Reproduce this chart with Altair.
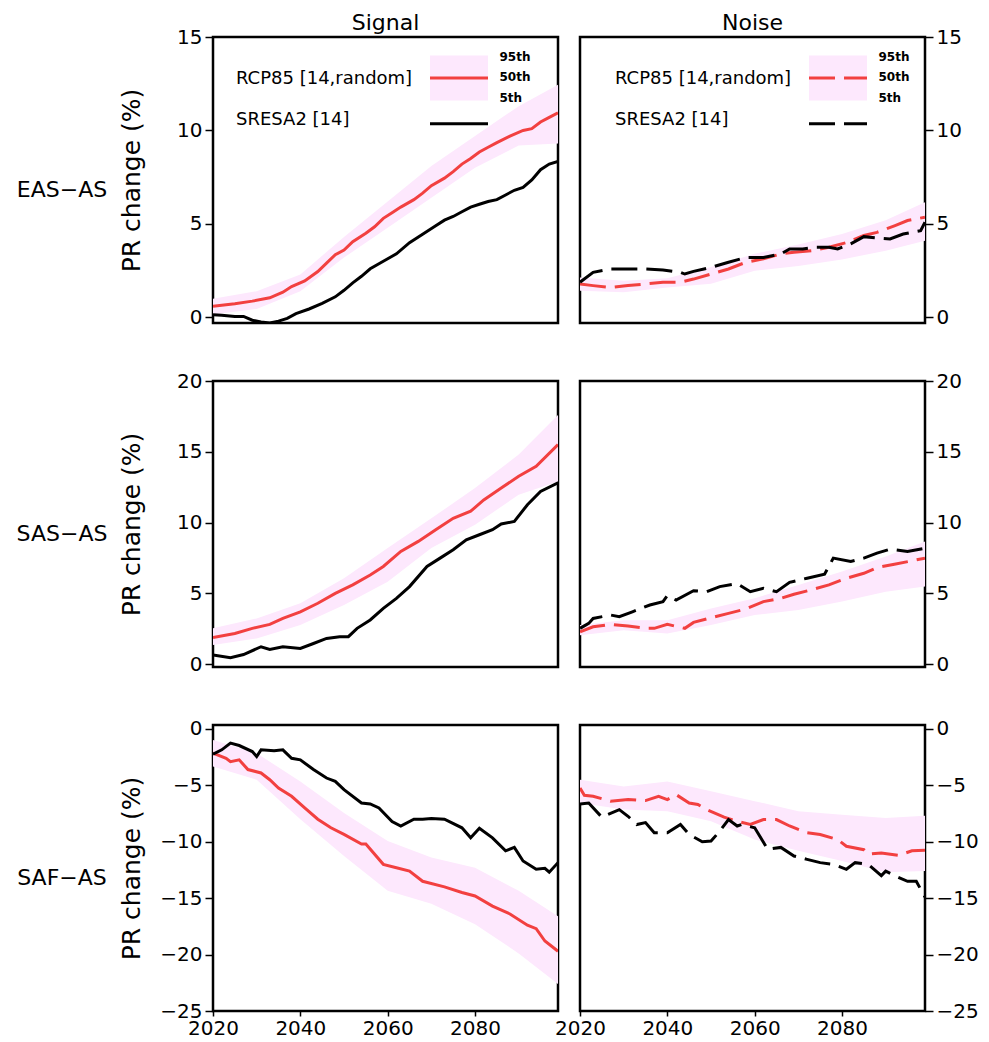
import altair as alt
import pandas as pd

FONT = "DejaVu Sans"
RED = "#f24040"
PINK = "#fde8fd"
BLACK = "#000000"

x_domain = [2020, 2099]
x_ticks = [2020, 2040, 2060, 2080]

# Percentile band (5th-95th) sampled every decade
band_years = [2020, 2030, 2040, 2050, 2060, 2070, 2080, 2090, 2099]

# ---------------- EAS-AS ----------------
eas_sig_rcp_years = [2020, 2023, 2025, 2029, 2033, 2036, 2038, 2041, 2044, 2046, 2048, 2050,
                     2052, 2055, 2057, 2059, 2061, 2063, 2066, 2068, 2070, 2073, 2075, 2077,
                     2079, 2081, 2083, 2085, 2088, 2091, 2093, 2095, 2097, 2099]
eas_sig_rcp = [0.6, 0.68, 0.73, 0.87, 1.05, 1.35, 1.65, 1.95, 2.45, 2.9, 3.35, 3.6,
               4.05, 4.5, 4.85, 5.3, 5.6, 5.9, 6.3, 6.65, 7.05, 7.45, 7.8, 8.2,
               8.5, 8.85, 9.1, 9.35, 9.7, 10.0, 10.1, 10.45, 10.7, 10.95]
eas_sig_sres_years = [2020, 2022, 2025, 2027, 2029, 2031, 2033, 2035, 2037, 2039, 2042, 2045,
                      2048, 2050, 2052, 2054, 2056, 2059, 2062, 2065, 2068, 2071, 2073, 2075,
                      2077, 2079, 2081, 2083, 2085, 2087, 2089, 2091, 2093, 2095, 2097, 2099]
eas_sig_sres = [0.14, 0.12, 0.05, 0.05, -0.15, -0.25, -0.3, -0.2, -0.05, 0.2, 0.45, 0.75,
                1.1, 1.45, 1.85, 2.2, 2.6, 3.0, 3.4, 4.0, 4.45, 4.9, 5.2, 5.4,
                5.65, 5.9, 6.05, 6.2, 6.3, 6.55, 6.8, 6.95, 7.35, 7.9, 8.2, 8.35]
eas_sig_p95 = [1.0, 1.4, 2.3, 4.3, 6.2, 8.1, 9.7, 11.3, 12.45]
eas_sig_p5 = [0.15, 0.45, 1.4, 3.2, 4.8, 6.4, 8.0, 9.2, 9.3]

eas_noi_rcp_years = [2020, 2023, 2027, 2031, 2035, 2039, 2043, 2046, 2050, 2054, 2058, 2062,
                     2066, 2069, 2073, 2077, 2081, 2085, 2088, 2092, 2095, 2099]
eas_noi_rcp = [1.79, 1.7, 1.6, 1.7, 1.79, 1.88, 1.88, 2.05, 2.32, 2.59, 2.95, 3.13,
               3.4, 3.48, 3.57, 3.75, 4.0, 4.38, 4.55, 4.9, 5.18, 5.36]
eas_noi_sres_years = [2020, 2023, 2027, 2031, 2035, 2039, 2043, 2044, 2046, 2050, 2054, 2058,
                      2062, 2066, 2068, 2071, 2074, 2077, 2079, 2082, 2085, 2088, 2091, 2094,
                      2098, 2099]
eas_noi_sres = [1.88, 2.41, 2.59, 2.59, 2.59, 2.54, 2.41, 2.32, 2.46, 2.68, 2.95, 3.21,
                3.21, 3.39, 3.66, 3.66, 3.75, 3.75, 3.66, 3.93, 4.32, 4.25, 4.2, 4.46,
                4.64, 5.09]
eas_noi_p95 = [2.14, 1.96, 2.1, 2.7, 3.4, 3.9, 4.46, 5.2, 6.16]
eas_noi_p5 = [1.43, 1.34, 1.6, 1.8, 2.5, 2.75, 3.1, 3.57, 4.1]

# ---------------- SAS-AS ----------------
sas_sig_rcp_years = [2020, 2025, 2029, 2033, 2036, 2040, 2044, 2048, 2052, 2056, 2059, 2063,
                     2067, 2071, 2075, 2079, 2082, 2086, 2090, 2094, 2099]
sas_sig_rcp = [1.89, 2.17, 2.53, 2.81, 3.23, 3.7, 4.3, 5.0, 5.6, 6.3, 6.9, 7.96,
               8.67, 9.5, 10.3, 10.8, 11.6, 12.44, 13.27, 13.98, 15.51]
sas_sig_sres_years = [2020, 2024, 2027, 2031, 2033, 2036, 2040, 2043, 2046, 2049, 2051, 2053,
                      2056, 2059, 2062, 2065, 2069, 2072, 2075, 2078, 2081, 2084, 2086, 2089,
                      2092, 2095, 2099]
sas_sig_sres = [0.64, 0.45, 0.68, 1.23, 1.04, 1.23, 1.11, 1.46, 1.82, 1.94, 1.94, 2.53,
                3.12, 3.94, 4.65, 5.48, 6.9, 7.49, 8.08, 8.78, 9.14, 9.5, 9.9, 10.08,
                11.26, 12.2, 12.8]
sas_sig_p95 = [2.53, 3.23, 4.3, 6.07, 8.2, 10.3, 12.44, 14.8, 17.6]
sas_sig_p5 = [1.35, 1.82, 2.76, 4.18, 5.83, 8.2, 9.85, 11.97, 12.9]

sas_noi_rcp_years = [2020, 2023, 2027, 2031, 2035, 2037, 2040, 2044, 2046, 2050, 2054, 2058,
                     2062, 2066, 2069, 2073, 2077, 2081, 2085, 2088, 2092, 2096, 2099]
sas_noi_rcp = [2.29, 2.64, 2.81, 2.69, 2.53, 2.53, 2.81, 2.53, 2.95, 3.28, 3.59, 3.9,
               4.42, 4.65, 4.94, 5.25, 5.6, 6.07, 6.42, 6.82, 7.06, 7.3, 7.49]
sas_noi_sres_years = [2020, 2022, 2023, 2027, 2029, 2032, 2036, 2039, 2040, 2042, 2046, 2049,
                      2052, 2056, 2059, 2062, 2065, 2068, 2072, 2076, 2078, 2082, 2085, 2088,
                      2091, 2095, 2099]
sas_noi_sres = [2.53, 2.88, 3.23, 3.47, 3.35, 3.7, 4.18, 4.42, 4.84, 4.53, 5.19, 5.12,
                5.48, 5.69, 5.12, 5.36, 5.12, 5.78, 6.07, 6.35, 7.49, 7.25, 7.49, 7.84,
                8.12, 7.96, 8.19]
sas_noi_p95 = [2.76, 3.1, 3.1, 3.94, 4.65, 5.6, 6.54, 7.6, 8.67]
sas_noi_p5 = [2.05, 2.4, 2.17, 2.76, 3.47, 3.82, 4.42, 5.12, 5.48]

# ---------------- SAF-AS ----------------
saf_sig_rcp_years = [2020, 2023, 2024, 2026, 2028, 2031, 2033, 2035, 2038, 2041, 2044, 2047,
                     2050, 2054, 2055, 2059, 2062, 2065, 2068, 2073, 2077, 2080, 2084, 2088,
                     2092, 2094, 2096, 2099]
saf_sig_rcp = [-2.15, -2.6, -2.9, -2.74, -3.6, -3.9, -4.5, -5.24, -5.97, -7.0, -8.0, -8.76,
               -9.35, -10.2, -10.2, -12.0, -12.3, -12.6, -13.5, -14.0, -14.5, -14.8, -15.7, -16.4,
               -17.4, -17.7, -18.8, -19.7]
saf_sig_sres_years = [2020, 2022, 2024, 2026, 2029, 2030, 2031, 2034, 2036, 2038, 2040, 2043,
                      2046, 2048, 2050, 2054, 2056, 2058, 2061, 2063, 2066, 2068, 2070, 2073,
                      2077, 2079, 2081, 2084, 2087, 2089, 2091, 2094, 2096, 2097, 2099]
saf_sig_sres = [-2.24, -1.85, -1.26, -1.47, -2.0, -2.44, -1.85, -1.94, -1.85, -2.6, -2.74, -3.6,
                -4.35, -4.65, -5.38, -6.56, -6.65, -7.0, -8.2, -8.6, -8.0, -8.0, -7.94, -8.0,
                -8.76, -9.65, -8.8, -9.65, -10.8, -10.5, -11.7, -12.44, -12.35, -12.7, -11.85]
saf_sig_p95 = [-0.97, -2.15, -4.65, -7.44, -9.94, -11.4, -12.3, -14.35, -16.6]
saf_sig_p5 = [-3.32, -4.5, -8.0, -11.26, -14.35, -15.5, -17.3, -19.9, -22.6]

saf_noi_rcp_years = [2020, 2021, 2023, 2027, 2031, 2035, 2038, 2040, 2042, 2045, 2047, 2049,
                     2053, 2056, 2059, 2062, 2065, 2068, 2072, 2075, 2079, 2081, 2085, 2086,
                     2089, 2093, 2096, 2099]
saf_noi_rcp = [-5.24, -5.88, -5.97, -6.4, -6.26, -6.35, -5.97, -6.26, -5.82, -6.56, -6.7, -7.15,
               -7.82, -8.18, -8.47, -8.03, -8.03, -8.6, -9.2, -9.35, -9.8, -10.4, -10.7, -11.1,
               -11.0, -11.2, -10.8, -10.76]
saf_noi_sres_years = [2020, 2022, 2025, 2029, 2031, 2033, 2035, 2037, 2040, 2043, 2045, 2048,
                      2050, 2052, 2054, 2056, 2057, 2060, 2063, 2066, 2069, 2072, 2075, 2078,
                      2081, 2083, 2086, 2089, 2090, 2092, 2095, 2097, 2099]
saf_noi_sres = [-6.65, -6.56, -7.82, -7.15, -7.74, -8.47, -8.3, -9.2, -9.2, -8.47, -9.35, -10.0,
                -9.94, -9.06, -8.03, -8.6, -8.47, -8.76, -10.67, -10.5, -11.26, -11.56, -11.85, -12.0,
                -12.44, -11.85, -12.0, -13.0, -12.6, -13.0, -13.5, -13.5, -14.9]
saf_noi_p95 = [-4.5, -5.1, -4.65, -5.53, -6.4, -7.3, -7.6, -7.9, -7.7]
saf_noi_p5 = [-6.56, -7.15, -7.3, -8.18, -9.8, -10.8, -11.7, -12.7, -12.6]

regions = ["EAS\u2212AS", "SAS\u2212AS", "SAF\u2212AS"]
y_domains = [[-0.3, 15], [-0.2, 20], [-25, 0.35]]
y_ticks = [[0, 5, 10, 15], [0, 5, 10, 15, 20], [0, -5, -10, -15, -20, -25]]
column_titles = ["Signal", "Noise"]
rcp_label = "RCP85 [14,random]"
sres_label = "SRESA2 [14]"
pct_labels = ["95th", "50th", "5th"]

series = [
    [(eas_sig_rcp_years, eas_sig_rcp, eas_sig_sres_years, eas_sig_sres, eas_sig_p5, eas_sig_p95),
     (eas_noi_rcp_years, eas_noi_rcp, eas_noi_sres_years, eas_noi_sres, eas_noi_p5, eas_noi_p95)],
    [(sas_sig_rcp_years, sas_sig_rcp, sas_sig_sres_years, sas_sig_sres, sas_sig_p5, sas_sig_p95),
     (sas_noi_rcp_years, sas_noi_rcp, sas_noi_sres_years, sas_noi_sres, sas_noi_p5, sas_noi_p95)],
    [(saf_sig_rcp_years, saf_sig_rcp, saf_sig_sres_years, saf_sig_sres, saf_sig_p5, saf_sig_p95),
     (saf_noi_rcp_years, saf_noi_rcp, saf_noi_sres_years, saf_noi_sres, saf_noi_p5, saf_noi_p95)],
]

W, H = 345, 286
DASH = [26, 9]


def legend_layers(dash, dx):
    """In-panel key: percentile band, RCP85 median and SRESA2 lines."""
    one = pd.DataFrame({"rcp": [rcp_label], "sres": [sres_label]})
    base = alt.Chart(one)
    line_kw = {"strokeDash": dash} if dash else {}
    x0, x1 = 217 + dx, 275 + dx
    layers = [
        base.mark_rect(color=PINK).encode(
            x=alt.value(x0), x2=alt.value(x1), y=alt.value(18.5), y2=alt.value(63.5)),
        base.mark_rule(color=RED, strokeWidth=3, **line_kw).encode(
            x=alt.value(x0), x2=alt.value(x1), y=alt.value(41)),
        base.mark_rule(color=BLACK, strokeWidth=3, **line_kw).encode(
            x=alt.value(x0), x2=alt.value(x1), y=alt.value(86.7)),
        base.mark_text(align="left", baseline="middle", fontSize=18, font=FONT).encode(
            text="rcp:N", x=alt.value(23 + dx), y=alt.value(41.7)),
        base.mark_text(align="left", baseline="middle", fontSize=18, font=FONT).encode(
            text="sres:N", x=alt.value(23 + dx), y=alt.value(83.3)),
    ]
    for lab, yy in zip(pct_labels, [20, 40, 60.5]):
        layers.append(
            alt.Chart(pd.DataFrame({"p": [lab]})).mark_text(
                align="left", baseline="middle", fontSize=12, fontWeight="bold", font=FONT
            ).encode(text="p:N", x=alt.value(286.5 + dx), y=alt.value(yy))
        )
    return layers


def panel(row, col):
    ry, rv, sy, sv, p5, p95 = series[row][col]
    bottom = row == 2
    left = col == 0
    dash = DASH if col == 1 else None
    line_kw = {"strokeDash": dash} if dash else {}

    if bottom:
        x_axis = alt.Axis(values=x_ticks, format="d", labelFontSize=20, labelFont=FONT,
                          tickSize=5, labelPadding=2, labelFlush=False, labelOverlap=False,
                          domain=False, grid=False, tickColor=BLACK, tickWidth=1.5,
                          labelColor=BLACK)
    else:
        x_axis = alt.Axis(labels=False, ticks=False, domain=False, grid=False)
    x = alt.X("year:Q", title=None, axis=x_axis,
              scale=alt.Scale(domain=x_domain, nice=False, zero=False))

    y_axis_kw = dict(values=y_ticks[row], orient="left" if left else "right",
                     labelFontSize=20, labelFont=FONT, tickSize=8, labelPadding=3,
                     domain=False, grid=False, tickColor=BLACK, tickWidth=1.5,
                     labelColor=BLACK)
    if left:
        y_axis_kw.update(titleFontSize=25, titleFont=FONT, titleFontWeight="normal",
                         titleX=-82, titleY=H / 2, titleBaseline="middle",
                         titleColor=BLACK)
    y_axis = alt.Axis(**y_axis_kw)
    y_scale = alt.Scale(domain=y_domains[row], nice=False, zero=False)
    y_title = "PR change (%)" if left else None

    band_df = pd.DataFrame({"year": band_years, "lo": p5, "hi": p95})
    rcp_df = pd.DataFrame({"year": ry, "pr": rv})
    sres_df = pd.DataFrame({"year": sy, "pr": sv})

    band = alt.Chart(band_df).mark_area(color=PINK, clip=True).encode(
        x=x, y=alt.Y("lo:Q", scale=y_scale, axis=y_axis, title=y_title), y2="hi:Q")
    rcp = alt.Chart(rcp_df).mark_line(color=RED, strokeWidth=3, clip=True, **line_kw).encode(
        x=x, y=alt.Y("pr:Q", scale=y_scale, axis=y_axis, title=y_title))
    sres = alt.Chart(sres_df).mark_line(color=BLACK, strokeWidth=3, clip=True, **line_kw).encode(
        x=x, y=alt.Y("pr:Q", scale=y_scale, axis=y_axis, title=y_title))

    layers = [band, rcp, sres]
    if row == 0:
        layers += legend_layers(dash, 0 if left else 12)
        # column heading above the top panels
        layers.append(
            alt.Chart(pd.DataFrame({"col": [column_titles[col]]})).mark_text(
                fontSize=22, font=FONT, align="center", baseline="alphabetic", color=BLACK
            ).encode(text="col:N", x=alt.value(W / 2), y=alt.value(-7))
        )
    if left:
        layers.append(
            alt.Chart(pd.DataFrame({"region": [regions[row]]})).mark_text(
                fontSize=22, font=FONT, align="center", baseline="middle", color=BLACK
            ).encode(text="region:N", x=alt.value(-151), y=alt.value(153))
        )

    return alt.layer(*layers).properties(width=W, height=H)


panels = [panel(r, c) for r in range(3) for c in range(2)]

chart = alt.concat(
    *panels, columns=2, spacing={"row": 58, "column": 22}, bounds="flush"
).properties(
    padding={"left": 15, "top": 10, "right": 5, "bottom": 2}
).configure(
    background="white", font=FONT,
    view=alt.ViewConfig(stroke=BLACK, strokeWidth=2.5),
)

chart.save("out.html", embed_options={"renderer": "svg", "actions": False})
